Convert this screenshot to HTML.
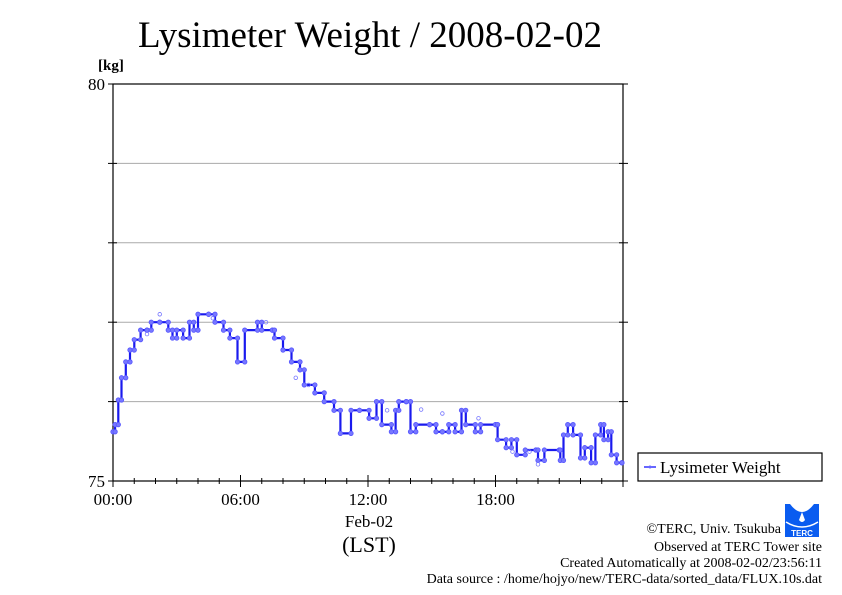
<!DOCTYPE html>
<html><head><meta charset="utf-8"><style>
body{margin:0;background:#fff}
svg{display:block}
text{font-family:"Liberation Serif",serif;fill:#000}
</style></head><body>
<svg width="842" height="595" viewBox="0 0 842 595">
<text x="370" y="47" font-size="37" text-anchor="middle">Lysimeter Weight / 2008-02-02</text>
<text x="98" y="70" font-size="15" font-weight="bold">[kg]</text>
<g id="grid"></g>
<rect x="113" y="84" width="510" height="397" fill="none" stroke="#000" stroke-width="1.2"/>
<g id="ticks"></g>
<g id="labels"></g>
<g id="series"></g>
<text x="369" y="527" font-size="17" text-anchor="middle">Feb-02</text>
<text x="369" y="552" font-size="22" text-anchor="middle">(LST)</text>
<g>
<rect x="638" y="453" width="184" height="28" fill="#fff" stroke="#000" stroke-width="1.2"/>
<line x1="644" y1="467" x2="656" y2="467" stroke="#3333ff" stroke-width="1.5"/>
<circle cx="650" cy="467" r="1.5" fill="#6666ff"/>
<text x="660" y="473" font-size="17">Lysimeter Weight</text>
</g>
<g>
<rect x="785" y="504" width="34" height="33" fill="#0a5cf0"/>
<path d="M790 504 Q802 520 814 504 Z" fill="#fff"/>
<path d="M802 512 L799 520 Q802 524 805 520 Z" fill="#fff"/>
<path d="M786 522 Q802 532 818 522" fill="none" stroke="#fff" stroke-width="1.5"/>
<text x="802" y="536" font-size="8" text-anchor="middle" style="fill:#fff;font-family:'Liberation Sans',sans-serif;font-weight:bold">TERC</text>
</g>
<g font-size="14" text-anchor="end">
<text x="781" y="533">©TERC, Univ. Tsukuba</text>
<text x="822" y="551">Observed at TERC Tower site</text>
<text x="822" y="567">Created Automatically at 2008-02-02/23:56:11</text>
<text x="822" y="583">Data source : /home/hojyo/new/TERC-data/sorted_data/FLUX.10s.dat</text>
</g>
</svg>
<script>
const hours=[0,0.1,0.25,0.4,0.6,0.8,1.0,1.3,1.6,1.8,2.2,2.6,2.8,3.0,3.3,3.6,3.8,4.0,4.5,4.8,5.2,5.5,5.86,6.2,6.8,7.0,7.5,7.6,8.0,8.4,8.8,9.0,9.5,9.94,10.4,10.7,11.2,11.6,12.05,12.4,12.65,13.1,13.3,13.45,13.8,14.0,14.25,14.9,15.2,15.5,15.8,16.1,16.4,16.6,17.05,17.3,18.0,18.1,18.5,18.75,19.0,19.4,19.9,20.0,20.3,21.0,21.05,21.2,21.4,21.65,22.0,22.2,22.5,22.7,22.95,23.1,23.3,23.45,23.7,23.95];
const weights=[75.62,75.71,76.02,76.30,76.50,76.65,76.78,76.90,76.90,77.00,77.00,76.90,76.80,76.90,76.80,77.00,76.90,77.10,77.10,77.00,76.90,76.80,76.50,76.90,77.00,76.90,76.90,76.80,76.65,76.50,76.40,76.21,76.11,76.00,75.89,75.60,75.89,75.89,75.79,76.00,75.71,75.62,75.89,76.00,76.00,75.62,75.71,75.71,75.62,75.62,75.71,75.62,75.89,75.71,75.62,75.71,75.71,75.52,75.42,75.52,75.33,75.39,75.39,75.26,75.39,75.39,75.26,75.58,75.71,75.58,75.29,75.42,75.23,75.58,75.71,75.52,75.62,75.33,75.23,75.23];
const outlierHours=[2.2,1.6,4.7,7.2,8.6,9.2,12.9,14.5,15.5,17.2,18.8,19.6,20.0];
const outlierWeights=[77.1,76.85,77.05,77.0,76.3,76.21,75.89,75.9,75.85,75.79,75.37,75.37,75.21];
const yTicks=[75,76,77,78,79,80];
const yTickLabels=["75","","","","","80"];
const xTickHours=[0,6,12,18];
const xTickLabels=["00:00","06:00","12:00","18:00"];
const X0=113,X1=623,Y0=481,Y1=84,YMIN=75,YMAX=80;
const xs=h=>X0+(X1-X0)*h/24;
const ys=v=>Y0-(Y0-Y1)*(v-YMIN)/(YMAX-YMIN);
const NS="http://www.w3.org/2000/svg";
function mk(tag,attrs,parent){const e=document.createElementNS(NS,tag);for(const k in attrs)e.setAttribute(k,attrs[k]);document.getElementById(parent).appendChild(e);return e;}
yTicks.forEach((v,i)=>{
  if(v>YMIN&&v<YMAX){const g=mk('line',{x1:X0,x2:X1,y1:ys(v),y2:ys(v),stroke:'#aaa','stroke-width':1},'grid');
  
  }
  [[X0-5,X0+4],[X1-4,X1+5]].forEach(p=>{const t=mk('line',{x1:p[0],x2:p[1],y1:ys(v),y2:ys(v),stroke:'#000'},'ticks');
  
  });
  if(yTickLabels[i]){const l=mk('text',{x:X0-8,y:ys(v)+6,'font-size':17,'text-anchor':'end'},'labels');l.textContent=yTickLabels[i];
  
  }
});
for(let h=0;h<=24;h++){const major=h%6===0;
  const t=mk('line',{x1:xs(h),x2:xs(h),y1:Y0-(major?6:3),y2:Y0+(major?6:3),stroke:'#000'},'ticks');
  
  }
xTickHours.forEach((h,i)=>{const l=mk('text',{x:xs(h),y:505,'font-size':17,'text-anchor':'middle'},'labels');l.textContent=xTickLabels[i];
  
  });
let d='';
hours.forEach((h,i)=>{
  const x=xs(h).toFixed(1),y=ys(weights[i]).toFixed(1);
  if(i===0){d+='M'+x+' '+y;}
  else{d+='H'+x+'V'+y;}
});
const line=mk('path',{d:d,fill:'none',stroke:'#1a1aee','stroke-width':2.2},'series');


hours.forEach((h,i)=>{
  const pts=[[xs(h),ys(weights[i])]];
  if(i>0)pts.push([xs(h),ys(weights[i-1])]);
  pts.forEach(p=>{const c=mk('circle',{cx:p[0],cy:p[1],r:2.2,fill:'#7777ff',stroke:'#5555ff','stroke-width':0.8},'series');
  
  });
});
outlierHours.forEach((h,i)=>{const c=mk('circle',{cx:xs(h),cy:ys(outlierWeights[i]),r:1.8,fill:'none',stroke:'#7777ff','stroke-width':0.8},'series');
  
  });
</script>
</body></html>
